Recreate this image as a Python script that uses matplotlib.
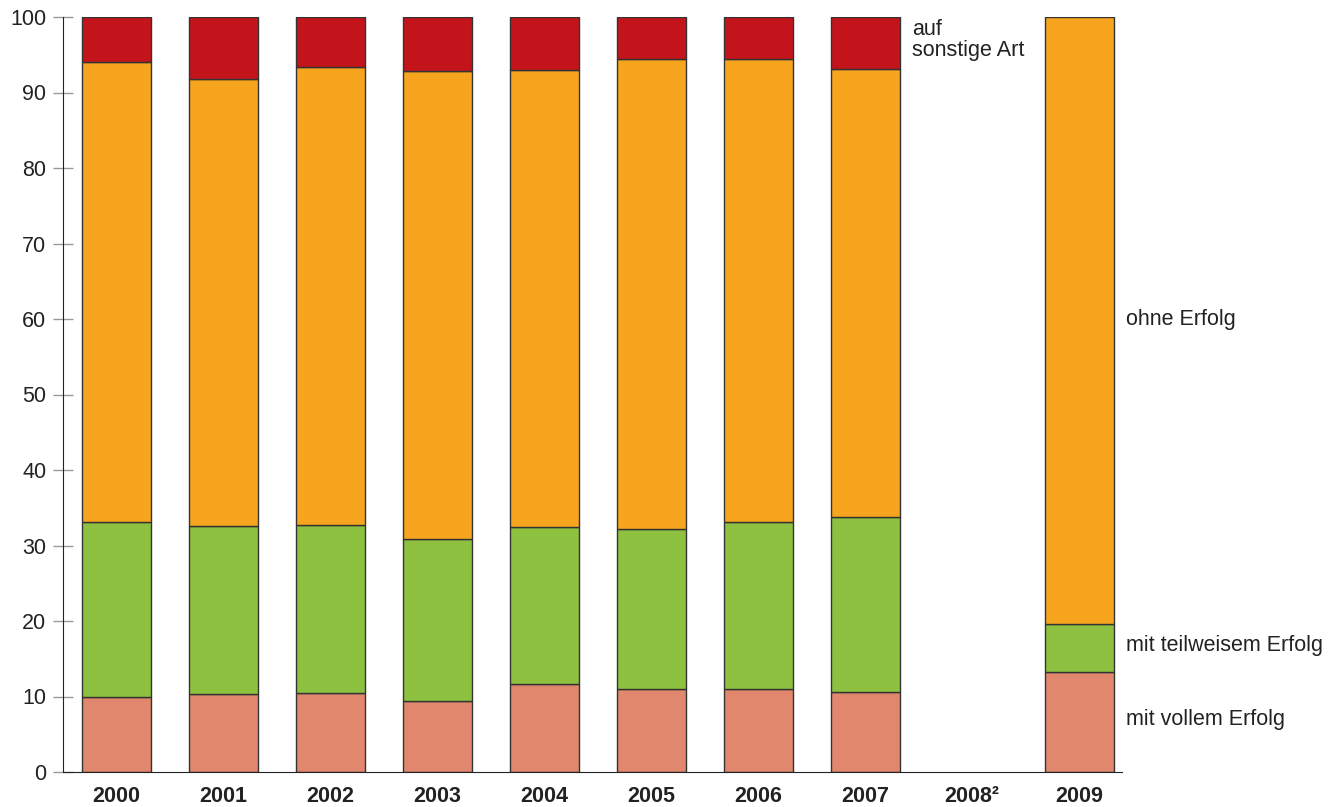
import matplotlib
matplotlib.use("Agg")
import matplotlib.pyplot as plt
import numpy as np

plt.rcParams['font.family'] = ['Liberation Sans', 'DejaVu Sans']

years = ["2000", "2001", "2002", "2003", "2004", "2005", "2006", "2007", "2008²", "2009"]
voll = [10.0, 10.3, 10.5, 9.4, 11.7, 11.0, 11.0, 10.6, np.nan, 13.2]
teilweise = [23.1, 22.3, 22.2, 21.5, 20.8, 21.2, 22.1, 23.2, np.nan, 6.4]
ohne = [60.9, 59.2, 60.7, 61.9, 60.5, 62.2, 61.3, 59.3, np.nan, 80.4]
sonstige = [6.0, 8.2, 6.6, 7.2, 7.0, 5.6, 5.6, 6.9, np.nan, 0.0]

series = [voll, teilweise, ohne, sonstige]
colors = ["#E0876D", "#8DC13F", "#F7A51E", "#C4141B"]

fig = plt.figure(figsize=(13.38, 8.07), dpi=100)
ax = fig.add_axes([63/1338, 35/807, (1122-63)/1338, (772-17)/807])

x = np.arange(len(years))
bottom = np.zeros(len(years))
for vals, c in zip(series, colors):
    v = np.array(vals, dtype=float)
    mask = ~np.isnan(v) & (v > 0)
    ax.bar(x[mask], v[mask], bottom=bottom[mask], width=0.645, color=c,
           edgecolor="#333333", linewidth=1.0)
    bottom = bottom + np.nan_to_num(v)

ax.set_xlim(-0.5, 9.4)
ax.set_ylim(0, 100)
ax.set_yticks(range(0, 101, 10))
ax.tick_params(axis='y', direction='inout', length=14, width=1, color='#999999',
               labelsize=15.5, pad=5, labelcolor='#222222')
ax.set_xticks(x)
ax.set_xticklabels(years, fontsize=15.5, fontweight='bold', color='#222222')
ax.tick_params(axis='x', length=0, pad=10)
for s in ['top', 'right']:
    ax.spines[s].set_visible(False)
ax.spines['left'].set_color('#222222')
ax.spines['bottom'].set_color('#222222')

# right-side labels
ax.text(7.44, 96.9, "auf\nsonstige Art", fontsize=15.5, color='#222222',
        va='center', ha='left', linespacing=1.0)
ax.text(9.44, 59.9, "ohne Erfolg", fontsize=15.5, color='#222222', va='center', ha='left', clip_on=False)
ax.text(9.44, 16.7, "mit teilweisem Erfolg", fontsize=15.5, color='#222222', va='center', ha='left', clip_on=False)
ax.text(9.44, 6.9, "mit vollem Erfolg", fontsize=15.5, color='#222222', va='center', ha='left', clip_on=False)

fig.savefig("out.png", dpi=100)
